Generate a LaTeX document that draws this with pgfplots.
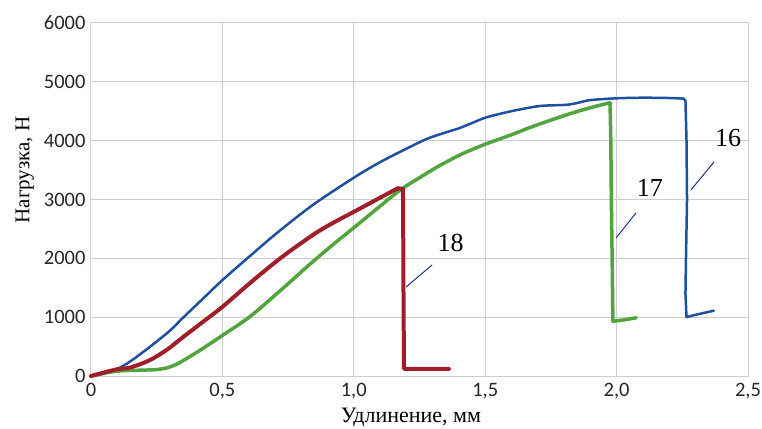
\documentclass[border=0pt]{standalone}
\usepackage{pgfplots}
\pgfplotsset{compat=1.18}
\usepackage{fontspec}
\setmainfont{Liberation Serif}
\newfontfamily\tickfont{Carlito}
\definecolor{cblue}{RGB}{30,80,160}
\definecolor{cred}{RGB}{160,30,42}
\definecolor{cgreen}{RGB}{82,165,62}
\definecolor{cgrid}{RGB}{205,205,205}
\definecolor{cnavy}{RGB}{30,50,140}
\begin{document}
\begin{tikzpicture}[x=1pt,y=1pt]
\path[use as bounding box] (-91,-52) rectangle (671,376);
\begin{axis}[
  at={(0,0)}, anchor=south west,
  scale only axis, width=657pt, height=353pt,
  xmin=0, xmax=2.5, ymin=0, ymax=6000,
  xtick={0,0.5,1,1.5,2,2.5},
  xticklabels={0,{0,5},{1,0},{1,5},{2,0},{2,5}},
  ytick={0,1000,2000,3000,4000,5000,6000},
  yticklabels={0,1000,2000,3000,4000,5000,6000},
  tick label style={font=\tickfont\fontsize{20.5}{22}\selectfont, text=black!85},
  xticklabel style={yshift=-4pt},
  yticklabel style={xshift=-2pt},
  major tick length=0pt,
  grid=major,
  grid style={cgrid, line width=1pt},
  axis line style={cgrid, line width=1pt},
  xlabel={Удлинение, мм},
  ylabel={Нагрузка, Н},
  xlabel style={font=\fontsize{22}{24}\selectfont, at={(axis description cs:0.487,-0.117)}, anchor=center},
  ylabel style={font=\fontsize{21}{23}\selectfont, at={(axis description cs:-0.101,0.584)}, anchor=center, rotate=0},
  clip=false,
]
% 16 blue
\addplot[cblue, line width=2.5pt, line join=round, line cap=round, smooth, tension=0.5] coordinates {
(0,0) (0.05,40) (0.1,120) (0.15,250) (0.224,495) (0.3,770) (0.35,990) (0.425,1310)
(0.5,1630) (0.605,2040) (0.71,2440) (0.845,2910) (1.0,3370) (1.09,3610)
(1.176,3810) (1.278,4030) (1.35,4140) (1.40,4210) (1.45,4300) (1.5,4390)
(1.56,4460) (1.62,4520) (1.71,4590) (1.81,4610) (1.86,4650) (1.90,4690)
(2.0,4720) (2.1,4730) (2.2,4725) (2.255,4715)
};
\addplot[cblue, line width=2.5pt, line join=round, line cap=round] coordinates {
(2.255,4715) (2.262,4680) (2.266,4000)
(2.268,3000) (2.264,2000) (2.262,1400) (2.266,1000) (2.30,1040) (2.37,1110)
};
% 17 green
\addplot[cgreen, line width=3.5pt, line join=round, line cap=round, smooth, tension=0.5] coordinates {
(0,0) (0.03,30) (0.063,60) (0.12,90) (0.2,100) (0.25,110) (0.29,140) (0.33,210)
(0.38,340) (0.44,510) (0.5,690) (0.605,1010) (0.73,1490) (0.833,1900)
(0.92,2230) (1.0,2520) (1.09,2850) (1.176,3160) (1.25,3370) (1.328,3580)
(1.41,3770) (1.5,3940) (1.6,4100) (1.68,4240)
(1.81,4440) (1.9,4560) (1.975,4645)
};
\addplot[cgreen, line width=3.5pt, line join=round, line cap=round] coordinates {
(1.975,4645) (1.978,4000) (1.98,3000) (1.983,2000)
(1.986,930) (2.03,955) (2.075,990)
};
% 18 red
\addplot[cred, line width=4pt, line join=round, line cap=round, smooth, tension=0.5] coordinates {
(0,0) (0.05,60) (0.1,115) (0.15,145) (0.224,270) (0.29,450) (0.35,660)
(0.42,900) (0.5,1175) (0.605,1580) (0.72,2000) (0.845,2400) (0.92,2600)
(1.0,2790) (1.1,3030) (1.15,3150) (1.168,3190)
};
\addplot[cred, line width=4pt, line join=round, line cap=round] coordinates {
(1.168,3190) (1.187,3180) (1.188,2500) (1.189,1500) (1.19,800) (1.191,120)
(1.28,120) (1.362,120)
};
% leader lines
\addplot[cnavy, line width=1pt] coordinates {(1.298,1888) (1.199,1514)};
\addplot[cnavy, line width=1pt] coordinates {(2.074,2772) (1.998,2347)};
\addplot[cnavy, line width=1pt] coordinates {(2.371,3640) (2.283,3163)};
\node[font=\fontsize{26}{28}\selectfont] at (axis cs:1.368,2260) {18};
\node[font=\fontsize{26}{28}\selectfont] at (axis cs:2.127,3200) {17};
\node[font=\fontsize{26}{28}\selectfont] at (axis cs:2.424,4050) {16};
\end{axis}
\end{tikzpicture}
\end{document}
